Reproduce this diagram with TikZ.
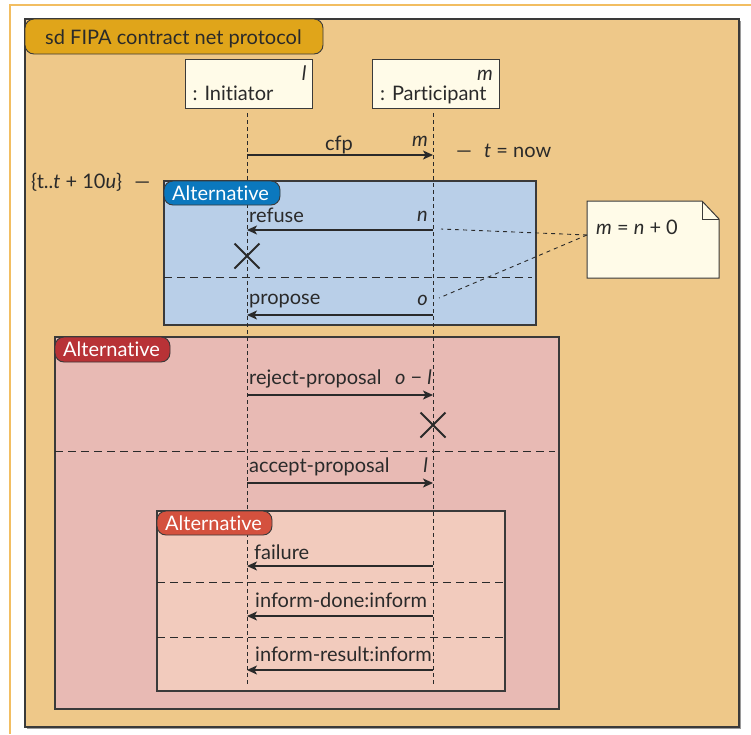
\documentclass[tikz,border=0pt]{standalone}
\usepackage{fontspec}
\setmainfont{Lato}[Ligatures={NoCommon,NoRare}]
\usetikzlibrary{arrows.meta,shapes.misc}

\definecolor{rule}{HTML}{F2BE62}
\definecolor{pagebg}{HTML}{EEC889}
\definecolor{titletab}{HTML}{E0A51A}
\definecolor{edge}{HTML}{3A3A3A}
\definecolor{shade}{HTML}{9A9A9A}
\definecolor{bluefill}{HTML}{B9CFE8}
\definecolor{bluetab}{HTML}{0B78BE}
\definecolor{redfill}{HTML}{E8BAB4}
\definecolor{redtab}{HTML}{B83236}
\definecolor{pinkfill}{HTML}{F2CBBD}
\definecolor{pinktab}{HTML}{D4513E}
\definecolor{cream}{HTML}{FFFBE8}
\definecolor{ink}{HTML}{2A2A2A}

\tikzset{
  txt/.style={font=\fontsize{20}{24}\selectfont, text=ink, inner sep=0pt},
  lab/.style={txt, anchor=base west},
  labr/.style={txt, anchor=base east},
  tabtxt/.style={font=\fontsize{20}{24}\selectfont, text=white, inner sep=0pt, anchor=base west},
  frm/.style={draw=edge, line width=1.1pt},
  shadowbox/.style={fill=shade},
  tabbox/.style={draw=edge, line width=0.9pt, rounded corners=9pt},
  headbox/.style={draw=edge, fill=cream, line width=1pt, minimum width=127pt, minimum height=49pt, inner sep=0pt},
  life/.style={draw=ink, line width=1pt, dash pattern=on 4pt off 3pt},
  sep/.style={draw=ink, line width=1pt, dash pattern=on 8pt off 5pt},
  msg/.style={draw=ink, line width=1.2pt, -{Stealth[length=10pt,width=9pt,inset=2.5pt]}},
  kill/.style={draw=ink, cross out, line width=2pt, minimum size=23pt, inner sep=0pt},
  notelink/.style={draw=ink, line width=0.9pt, dash pattern=on 4pt off 4pt},
}

\begin{document}
\begin{tikzpicture}[x=1pt,y=-1pt]
\useasboundingbox (0,0) rectangle (751,734);
\fill[white] (0,0) rectangle (751,734);
\draw[rule, line width=1.2pt] (10,734) -- (10,5) -- (751,5);

% outer interaction frame
\fill[shadowbox] (26.5,20.5) rectangle (740.5,728.5);
\draw[frm, fill=pagebg] (25,19) rectangle (739,727);

% combined fragments
\fill[shadowbox] (165,182) rectangle (537,326);
\draw[frm, fill=bluefill] (164,181) rectangle (536,325);
\fill[shadowbox] (56,338) rectangle (560,710);
\draw[frm, fill=redfill] (55,337) rectangle (559,709);
\fill[shadowbox] (158,512) rectangle (506,692);
\draw[frm, fill=pinkfill] (157,511) rectangle (505,691);

% operand separators
\draw[sep] (164,277) -- (532,277);
\draw[sep] (55,451) -- (555,451);
\draw[sep] (157,582) -- (503,582);
\draw[sep] (157,637) -- (503,637);

% lifelines
\coordinate (Itop) at (247,113);
\coordinate (Ibot) at (247,684);
\coordinate (Ptop) at (433,113);
\coordinate (Pbot) at (433,684);
\draw[life] (Itop) -- (Ibot);
\draw[life] (Ptop) -- (Pbot);

% frame tabs
\draw[tabbox, fill=titletab] (25,19) rectangle (323,54);
\node[txt, anchor=base west] (title) at (45,44) {sd FIPA contract net protocol};
\draw[tabbox, fill=bluetab] (164,181) rectangle (280,205);
\node[tabtxt] (alt1) at (172,200) {Alternative};
\draw[tabbox, fill=redtab] (55,337) rectangle (170,362);
\node[tabtxt] (alt2) at (63,356) {Alternative};
\draw[tabbox, fill=pinktab] (157,511) rectangle (272,535);
\node[tabtxt] (alt3) at (165,530) {Alternative};

% lifeline heads
\node[headbox] (ini) at (248.5,83.5) {};
\node[lab] at ([xshift=8pt,yshift=8pt]ini.south west) {: Initiator};
\node[labr] at ([xshift=-6pt,yshift=28pt]ini.south east) {\textit{l}};
\node[headbox] (par) at (436,83.5) {};
\node[lab] at ([xshift=8pt,yshift=8pt]par.south west) {: Participant};
\node[labr] at ([xshift=-7pt,yshift=28pt]par.south east) {\textit{m}};

% cfp
\coordinate (cfpI) at (247,155);
\coordinate (cfpP) at (433,155);
\draw[msg] (cfpI) -- (cfpP);
\node[txt, anchor=base] (cfp) at (339,150) {cfp};
\node[labr] (cfpm) at (428,146) {\textit{m}};
\node[lab] (now) at (456,157) {—\hspace{1.2ex}\textit{t} = now};
\node[lab] (window) at (31,188) {\{t..\textit{t} + 10\textit{u}\}\hspace{1.2ex}—};

% first alternative
\coordinate (refP) at (433,230);
\coordinate (refI) at (247,230);
\draw[msg] (refP) -- (refI);
\node[lab] (refuse) at (249,222) {refuse};
\node[labr] (lbn) at (428,221) {\textit{n}};
\node[kill] (x1) at (247,256) {};
\coordinate (proP) at (433,315);
\coordinate (proI) at (247,315);
\draw[msg] (proP) -- (proI);
\node[lab] (propose) at (249,304) {propose};
\node[labr] (lbo) at (428,305) {\textit{o}};

% second alternative
\coordinate (rejI) at (247,395);
\coordinate (rejP) at (433,395);
\draw[msg] (rejI) -- (rejP);
\node[lab] (reject) at (249,384) {reject-proposal};
\node[labr] (lbol) at (432,384) {\textit{o} − \textit{l}};
\node[kill] (x2) at (433,425) {};
\coordinate (accI) at (247,483);
\coordinate (accP) at (433,483);
\draw[msg] (accI) -- (accP);
\node[lab] (accept) at (249,472) {accept-proposal};
\node[labr] (lbl) at (428,472) {\textit{l}};

% third alternative
\coordinate (failP) at (433,566);
\coordinate (failI) at (247,566);
\draw[msg] (failP) -- (failI);
\node[lab] (failure) at (254,559) {failure};
\coordinate (doneP) at (433,616);
\coordinate (doneI) at (247,616);
\draw[msg] (doneP) -- (doneI);
\node[lab] (done) at (255,607) {inform-done:inform};
\coordinate (resP) at (433,670);
\coordinate (resI) at (247,670);
\draw[msg] (resP) -- (resI);
\node[lab] (result) at (255,661) {inform-result:inform};

% constraint note
\draw[draw=edge, fill=cream, line width=1pt] (587,201) -- (702,201) -- (719,219) -- (719,278) -- (587,278) -- cycle;
\draw[draw=edge, line width=1pt] (702,201) -- (702,219) -- (719,219);
\node[lab] (note) at (596,234) {\textit{m} = \textit{n} + 0};
\coordinate (noteL) at (587,235);
\coordinate (nEnd) at (441,229);
\coordinate (oEnd) at (439,298);
\draw[notelink] (noteL) -- (nEnd);
\draw[notelink] (noteL) -- (oEnd);
\end{tikzpicture}
\end{document}
